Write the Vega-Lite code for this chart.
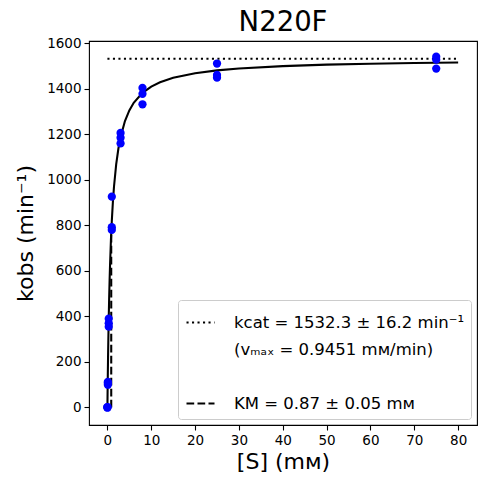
{
  "$schema": "https://vega.github.io/schema/vega-lite/v6.json",
  "width": 388,
  "height": 384,
  "autosize": {"type": "none"},
  "padding": {"left": 89, "top": 41, "right": 9, "bottom": 59},
  "background": "white",
  "title": {"text": "N220F", "fontSize": 27.5, "fontWeight": "normal", "font": "DejaVu Sans", "color": "black", "offset": 0},
  "config": {
    "font": "DejaVu Sans",
    "view": {"stroke": "black", "strokeWidth": 1.1},
    "axis": {
      "grid": false, "domain": false,
      "tickColor": "black", "tickSize": 5, "tickWidth": 1.1,
      "labelFontSize": 13.5, "labelColor": "black", "labelPadding": 3,
      "titleFontSize": 22, "titleFontWeight": "normal", "titleColor": "black"
    }
  },
  "datasets": {
    "obs": [
      {"S": 0, "k": 0}, {"S": 0, "k": 0}, {"S": 0, "k": 2},
      {"S": 0.1, "k": 100}, {"S": 0.1, "k": 107}, {"S": 0.1, "k": 112},
      {"S": 0.3, "k": 355}, {"S": 0.3, "k": 370}, {"S": 0.3, "k": 390},
      {"S": 1, "k": 780}, {"S": 1, "k": 792}, {"S": 1, "k": 926},
      {"S": 3, "k": 1160}, {"S": 3, "k": 1185}, {"S": 3, "k": 1206},
      {"S": 8, "k": 1332}, {"S": 8, "k": 1378}, {"S": 8, "k": 1404},
      {"S": 25, "k": 1449}, {"S": 25, "k": 1461}, {"S": 25, "k": 1511},
      {"S": 75, "k": 1489}, {"S": 75, "k": 1528}, {"S": 75, "k": 1541}
    ],
    "fit": [
      {"S": 0, "k": 0}, {"S": 0.05, "k": 83.3}, {"S": 0.1, "k": 158.0}, {"S": 0.15, "k": 225.3},
      {"S": 0.2, "k": 286.4}, {"S": 0.3, "k": 392.9}, {"S": 0.4, "k": 482.6}, {"S": 0.5, "k": 559.2},
      {"S": 0.6, "k": 625.4}, {"S": 0.8, "k": 734.0}, {"S": 1, "k": 819.4}, {"S": 1.25, "k": 903.5},
      {"S": 1.5, "k": 969.8}, {"S": 2, "k": 1067.8}, {"S": 2.5, "k": 1136.7}, {"S": 3, "k": 1187.8},
      {"S": 4, "k": 1258.6}, {"S": 5, "k": 1305.2}, {"S": 6, "k": 1338.3}, {"S": 8, "k": 1382.0},
      {"S": 10, "k": 1409.7}, {"S": 12, "k": 1428.7}, {"S": 15, "k": 1448.3}, {"S": 20, "k": 1468.4},
      {"S": 25, "k": 1480.8}, {"S": 30, "k": 1489.1}, {"S": 40, "k": 1499.7}, {"S": 50, "k": 1506.1},
      {"S": 60, "k": 1510.4}, {"S": 70, "k": 1513.5}, {"S": 80, "k": 1515.8}
    ],
    "refs": [
      {"line": "kcat = 1532.3 ± 16.2 min⁻¹", "S": 0, "k": 1532.3},
      {"line": "kcat = 1532.3 ± 16.2 min⁻¹", "S": 80, "k": 1532.3},
      {"line": "KM = 0.87 ± 0.05 mᴍ", "S": 0.87, "k": 0},
      {"line": "KM = 0.87 ± 0.05 mᴍ", "S": 0.87, "k": 766.15}
    ]
  },
  "encoding": {
    "x": {
      "field": "S", "type": "quantitative", "title": "[S] (mᴍ)",
      "scale": {"domain": [-4.2, 84.3], "nice": false, "zero": false},
      "axis": {"values": [0, 10, 20, 30, 40, 50, 60, 70, 80], "format": "d", "titlePadding": 5}
    },
    "y": {
      "field": "k", "type": "quantitative", "title": "kobs (min⁻¹)",
      "scale": {"domain": [-77, 1610], "nice": false, "zero": false},
      "axis": {"values": [0, 200, 400, 600, 800, 1000, 1200, 1400, 1600], "format": "d", "titlePadding": 9}
    }
  },
  "layer": [
    {
      "data": {"name": "refs"},
      "mark": {"type": "line", "strokeWidth": 2.08},
      "encoding": {
        "strokeDash": {
          "field": "line", "type": "nominal",
          "scale": {
            "domain": ["kcat = 1532.3 ± 16.2 min⁻¹", "(vₘₐₓ = 0.9451 mᴍ/min)", " ", "KM = 0.87 ± 0.05 mᴍ"],
            "range": [[2.1, 3.4], [1, 0], [1, 0], [7.7, 3.3]]
          },
          "legend": {
            "title": null, "orient": "bottom-right", "offset": 6,
            "symbolType": "stroke", "symbolSize": 784, "symbolStrokeWidth": 2.08,
            "labelFontSize": 16.5, "labelColor": "black", "labelOffset": 18, "labelLimit": 400,
            "padding": 7, "rowPadding": 3,
            "fillColor": "rgba(255,255,255,0.8)", "strokeColor": "#cccccc", "cornerRadius": 3
          }
        },
        "stroke": {
          "field": "line", "type": "nominal",
          "scale": {
            "domain": ["kcat = 1532.3 ± 16.2 min⁻¹", "(vₘₐₓ = 0.9451 mᴍ/min)", " ", "KM = 0.87 ± 0.05 mᴍ"],
            "range": ["black", "transparent", "transparent", "black"]
          },
          "legend": {
            "title": null, "orient": "bottom-right", "offset": 6,
            "symbolType": "stroke", "symbolSize": 784, "symbolStrokeWidth": 2.08,
            "labelFontSize": 16.5, "labelColor": "black", "labelOffset": 18, "labelLimit": 400,
            "padding": 7, "rowPadding": 3,
            "fillColor": "rgba(255,255,255,0.8)", "strokeColor": "#cccccc", "cornerRadius": 3
          }
        }
      }
    },
    {
      "data": {"name": "fit"},
      "mark": {"type": "line", "color": "black", "strokeWidth": 2.08},
      "encoding": {}
    },
    {
      "data": {"name": "obs"},
      "mark": {"type": "circle", "color": "#0000ff", "opacity": 1, "size": 68},
      "encoding": {}
    }
  ]
}
